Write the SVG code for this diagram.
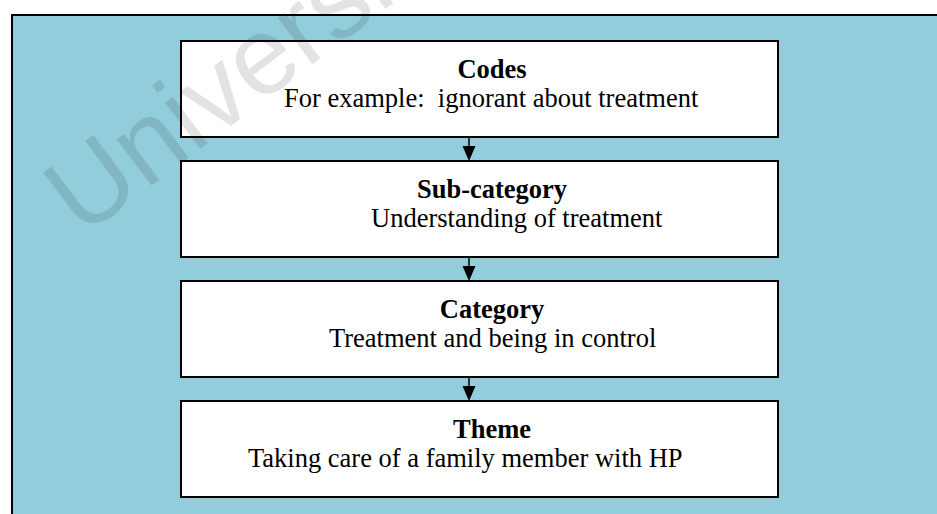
<svg xmlns="http://www.w3.org/2000/svg" width="937" height="514" viewBox="0 0 937 514">
  <defs>
    <style>
      .frame { fill: #92CDDC; stroke: #000; stroke-width: 2; }
      .box { fill: #fff; stroke: #000; stroke-width: 2; }
      .title { font-family: "Liberation Serif", "Times New Roman", serif; font-size: 26.5px; font-weight: bold; fill: #000; text-anchor: middle; }
      .sub { font-family: "Liberation Serif", "Times New Roman", serif; font-size: 26.5px; fill: #000; white-space: pre; }
      .link { stroke: #000; stroke-width: 1.5; fill: none; }
      .head { fill: #000; }
      .mark { font-family: "Liberation Sans", Arial, sans-serif; font-size: 110px; fill: #000; fill-opacity: 0.11; }
    </style>
  </defs>

  <rect width="937" height="514" fill="#fff"/>
  <!-- outer panel, running off the right and bottom edges -->
  <rect class="frame" x="12" y="15" width="940" height="510"/>

  <g id="codes">
    <rect class="box" x="181" y="41" width="597" height="96"/>
    <text class="title" x="492" y="78">Codes</text>
    <text class="sub" x="284" y="107">For example:  ignorant about treatment</text>
  </g>

  <g id="sub-category">
    <rect class="box" x="181" y="161" width="597" height="96"/>
    <text class="title" x="492" y="198">Sub-category</text>
    <text class="sub" x="371" y="227">Understanding of treatment</text>
  </g>

  <g id="category">
    <rect class="box" x="181" y="281" width="597" height="96"/>
    <text class="title" x="492" y="318">Category</text>
    <text class="sub" x="329" y="347">Treatment and being in control</text>
  </g>

  <g id="theme">
    <rect class="box" x="181" y="401" width="597" height="96"/>
    <text class="title" x="492" y="438">Theme</text>
    <text class="sub" x="248" y="467">Taking care of a family member with HP</text>
  </g>

  <g id="connectors">
    <line class="link" x1="469" y1="137" x2="469" y2="148"/>
    <polygon class="head" points="462.5,146 475.5,146 469,161"/>
    <line class="link" x1="469" y1="257" x2="469" y2="268"/>
    <polygon class="head" points="462.5,266 475.5,266 469,281"/>
    <line class="link" x1="469" y1="377" x2="469" y2="388"/>
    <polygon class="head" points="462.5,386 475.5,386 469,401"/>
  </g>

  <!-- faint diagonal watermark -->
  <text class="mark" transform="translate(82 238) rotate(-37)">University</text>
</svg>
